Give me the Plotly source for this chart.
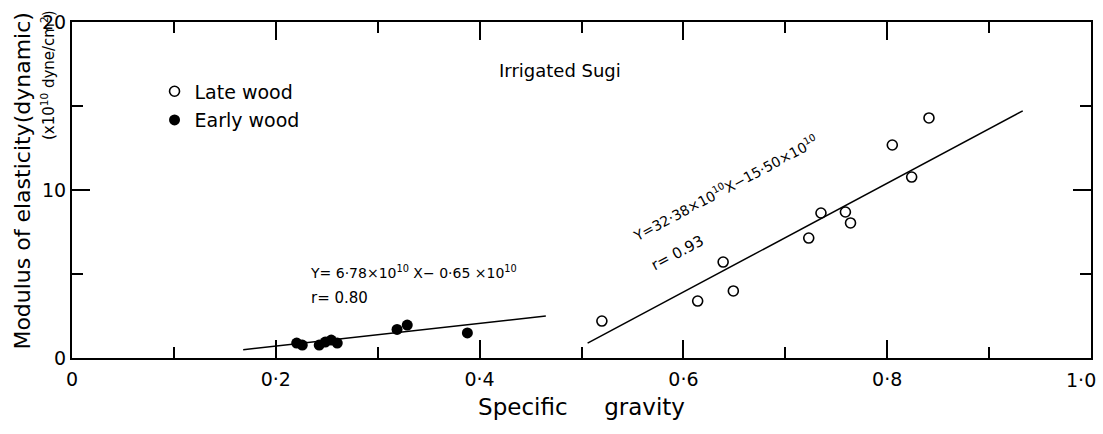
import plotly.graph_objects as go

# ---- data ----
late_x = [0.520, 0.614, 0.639, 0.649, 0.723, 0.735, 0.759, 0.764, 0.805, 0.824, 0.841]
late_y = [2.20, 3.39, 5.71, 3.99, 7.14, 8.63, 8.69, 8.04, 12.68, 10.77, 14.29]

early_x = [0.2205, 0.226, 0.2426, 0.2485, 0.2544, 0.2603, 0.319, 0.329, 0.388]
early_y = [0.89, 0.77, 0.77, 0.95, 1.07, 0.89, 1.70, 1.96, 1.49]

# regression lines: slope, intercept (x10^10) and drawn x extent
late_fit = {"slope": 32.38, "intercept": -15.50, "x": [0.506, 0.933]}
early_fit = {"slope": 6.78, "intercept": -0.65, "x": [0.168, 0.465]}

NB = "\u00a0"
x_tick_vals = [0, 0.2, 0.4, 0.6, 0.8, 1.0]
x_tick_text = ["0", "0·2", "0·4", "0·6", "0·8", "1·0"]
y_tick_vals = [0, 10, 20]
y_tick_text = ["0", "10", "20"]

FONT = "DejaVu Sans"

fig = go.Figure()

for fit in (early_fit, late_fit):
    fx = fit["x"]
    fy = [fit["slope"] * v + fit["intercept"] for v in fx]
    fig.add_trace(go.Scatter(x=fx, y=fy, mode="lines",
                             line=dict(color="black", width=1.5),
                             showlegend=False, hoverinfo="skip"))

fig.add_trace(go.Scatter(x=late_x, y=late_y, mode="markers", name="Late" + NB + "wood",
                         legendgroup="a",
                         marker=dict(symbol="circle-open", size=10, color="black",
                                     line=dict(width=1.6, color="black"))))
fig.add_trace(go.Scatter(x=early_x, y=early_y, mode="markers", name="Early" + NB + "wood",
                         legendgroup="b",
                         marker=dict(symbol="circle", size=11, color="black")))

tick_font = dict(family=FONT, size=19, color="black")
axis_common = dict(showgrid=False, zeroline=False, showline=True, linecolor="black",
                   linewidth=2, mirror="ticks", ticks="inside", tickcolor="black",
                   tickwidth=2, ticklen=18, automargin=False,
                   tickfont=tick_font)

# last x label (at the right edge) is drawn as an annotation so it fits the page
axis_labels = x_tick_text[:-1] + [""]
fig.update_xaxes(range=[0, 1.0], tickvals=x_tick_vals, ticktext=axis_labels,
                 minor=dict(tickvals=[0.1, 0.3, 0.5, 0.7, 0.9], ticks="inside",
                            ticklen=11, tickwidth=2, tickcolor="black"),
                 ticklabelstandoff=3,
                 title=dict(text="Specific" + NB * 5 + "gravity",
                            font=dict(family=FONT, size=23, color="black"),
                            standoff=10),
                 **axis_common)
fig.update_yaxes(range=[0, 20], tickvals=y_tick_vals, ticktext=y_tick_text,
                 minor=dict(tickvals=[5, 15], ticks="inside", ticklen=11, tickwidth=2,
                            tickcolor="black"),
                 **axis_common)

fig.add_annotation(x=x_tick_vals[-1], y=0, yref="paper", xanchor="right", yanchor="top",
                   xshift=7, yshift=-9, text=x_tick_text[-1], showarrow=False,
                   font=tick_font)

ann_font = dict(family=FONT, size=14, color="black")
fig.add_annotation(x=0.479, y=17.14, text="Irrigated" + NB + "Sugi", showarrow=False,
                   font=dict(family=FONT, size=18, color="black"))
fig.add_annotation(x=0.2316, y=5.1, xanchor="left",
                   text="Y=" + NB + "6·78×10<sup>10</sup>" + NB + "X−" + NB + "0·65" + NB + "×10<sup>10</sup>",
                   showarrow=False, font=ann_font)
fig.add_annotation(x=0.233, y=3.6, xanchor="left", text="r=" + NB + "0.80",
                   showarrow=False, font=dict(family=FONT, size=15, color="black"))
fig.add_annotation(x=0.641, y=10.1, text="Y=32·38×10<sup>10</sup>X−15·50×10<sup>10</sup>",
                   textangle=-28, showarrow=False, font=ann_font)
fig.add_annotation(x=0.594, y=6.25, text="r=" + NB + "0.93", textangle=-28,
                   showarrow=False, font=dict(family=FONT, size=15, color="black"))

# y axis title (two lines)
fig.add_annotation(xref="paper", yref="paper", x=0, y=0.525, xshift=-49,
                   xanchor="center", yanchor="middle",
                   text="Modulus of elasticity(dynamic)", textangle=-90,
                   showarrow=False, font=dict(family=FONT, size=22, color="black"))
fig.add_annotation(xref="paper", yref="paper", x=0, y=0.842, xshift=-24,
                   xanchor="center", yanchor="middle",
                   text="(x10<sup>10</sup>" + NB + "dyne/cm<sup>2</sup>)", textangle=-90,
                   showarrow=False, font=dict(family=FONT, size=15, color="black"))

fig.update_layout(
    width=1103, height=434,
    margin=dict(l=72, r=12, t=22, b=76, autoexpand=False),
    paper_bgcolor="white", plot_bgcolor="white",
    font=dict(family=FONT, color="black"),
    legend=dict(x=0.081, y=0.85, xanchor="left", yanchor="top",
                bgcolor="rgba(0,0,0,0)", tracegroupgap=1,
                font=dict(family=FONT, size=19, color="black")),
)

fig.write_html("out.html")
